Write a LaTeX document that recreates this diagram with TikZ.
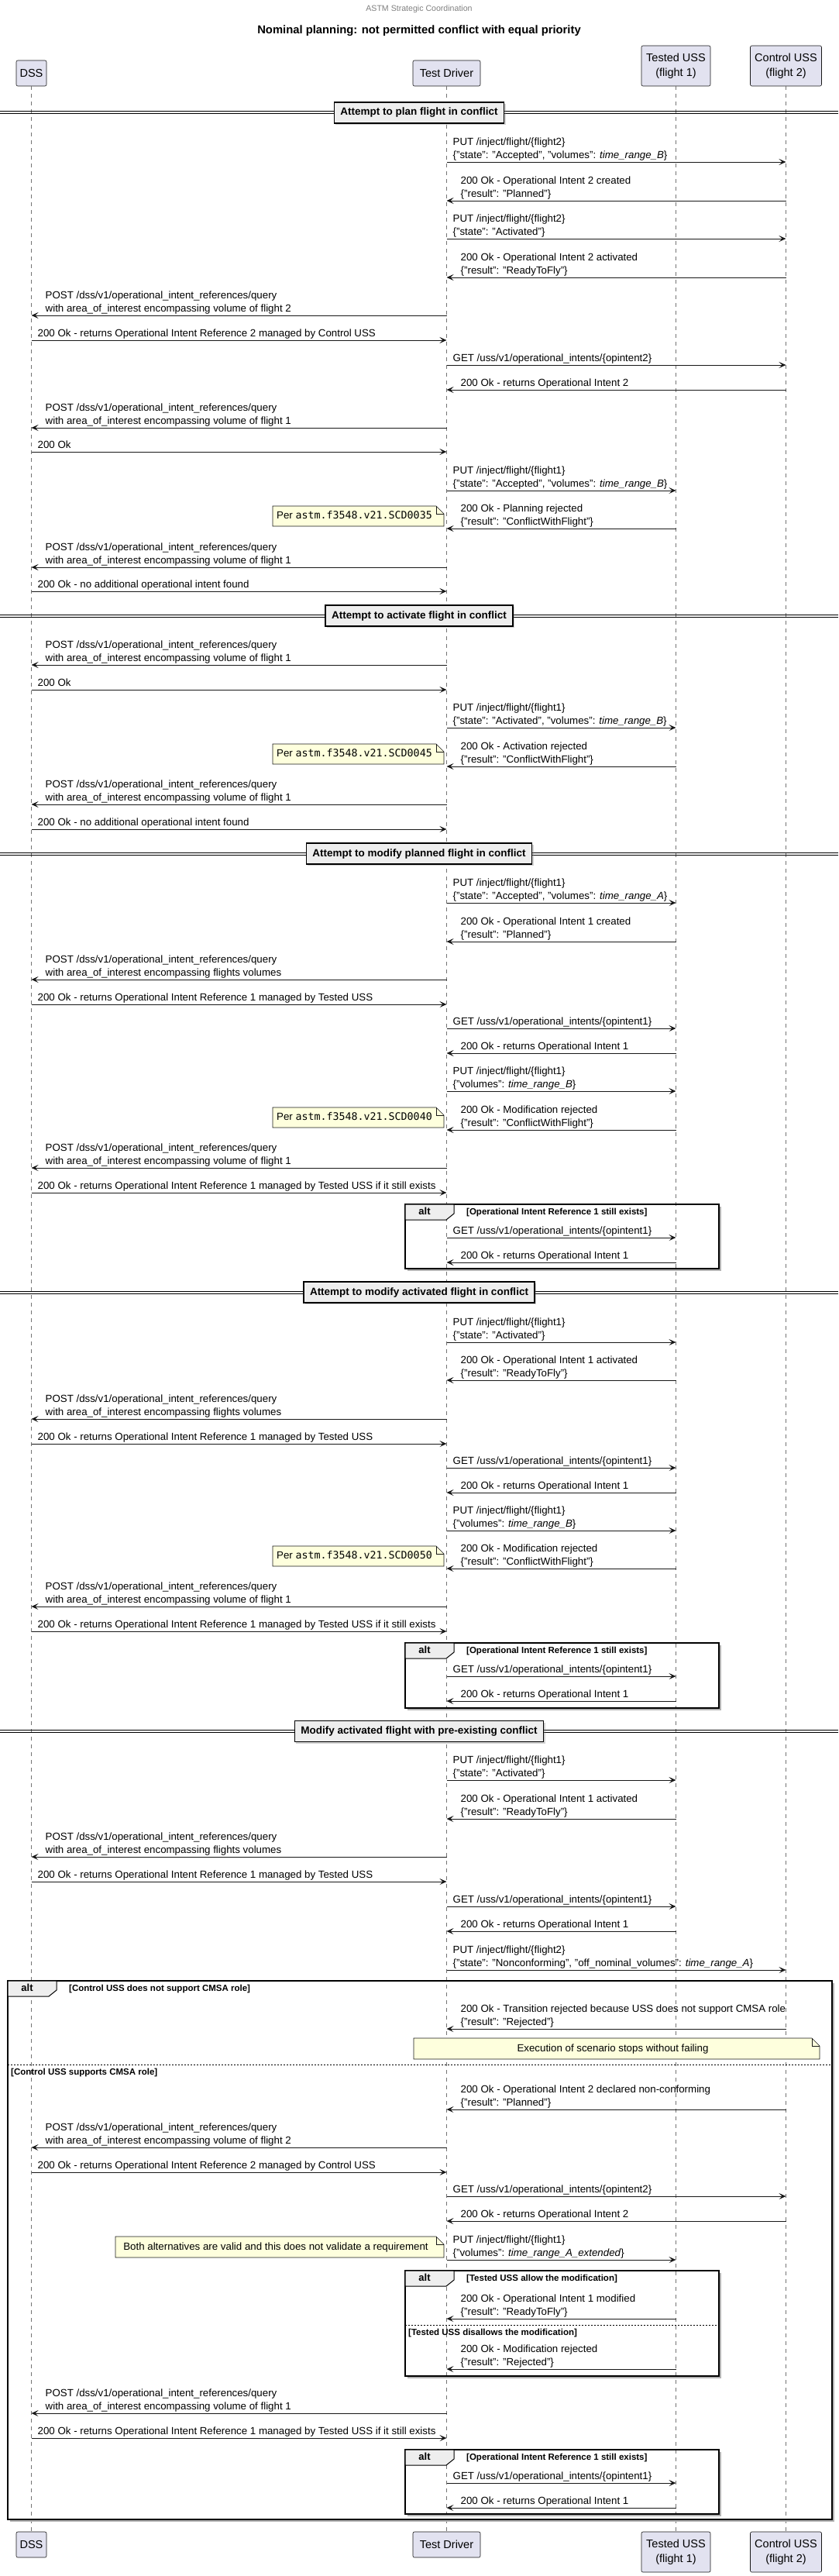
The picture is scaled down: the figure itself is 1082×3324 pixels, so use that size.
\documentclass[tikz,border=0pt]{standalone}
\usepackage{fontspec}
\setmainfont{Liberation Sans}
\newfontfamily\monofont{DejaVu Sans Mono}
\usetikzlibrary{arrows.meta,calc,shadows}
\definecolor{partfill}{HTML}{E2E2F0}
\definecolor{notefill}{HTML}{FEFFDD}
\definecolor{divfill}{HTML}{EEEEEE}
\definecolor{ink}{HTML}{181818}
\newcounter{lbl}
\tikzset{
 partbox/.style={draw=ink, fill=partfill, line width=0.6pt, rounded corners=2pt, align=center, font=\fontsize{14.5}{19}\selectfont, inner sep=0pt},
 lifeline/.style={draw=ink!60, line width=0.7pt, dash pattern=on 5pt off 5pt},
 msgline/.style={draw=ink, line width=1pt, -{Stealth[length=9pt,width=8pt,inset=4pt]}},
 msgtxt/.style={anchor=base west, inner sep=0pt, font=\fontsize{13.3}{17}\selectfont, text=black},
 divbox/.style={draw=black, fill=divfill, line width=1.5pt, inner xsep=8pt, inner ysep=0pt, minimum height=27pt, text height=10pt, text depth=3pt, font=\bfseries\fontsize{13.5}{16}\selectfont, drop shadow={shadow xshift=2pt,shadow yshift=-2pt,opacity=0.35}},
 divline/.style={draw=black, line width=1pt},
 altbox/.style={draw=black, line width=1.5pt},
 altshadow/.style={draw=black!30, line width=1.5pt},
 alttab/.style={draw=black, fill=divfill, line width=1pt},
 alttxt/.style={font=\bfseries\fontsize{13}{15}\selectfont, inner sep=0pt, text height=9.5pt, text depth=2.5pt},
 condtxt/.style={font=\bfseries\fontsize{11.5}{14}\selectfont, inner sep=0pt, anchor=west, text height=8.5pt, text depth=2.5pt},
 elseline/.style={draw=black, line width=1pt, dash pattern=on 2pt off 2pt},
 notebg/.style={draw=ink, fill=notefill, line width=0.6pt},
 notetxt/.style={font=\fontsize{13.3}{17}\selectfont, inner sep=0pt, text height=9.5pt, text depth=2.5pt},
}
\newcommand\postquery{POST /dss/v1/operational\_intent\_references/query}
\newcommand\msgtext[5]{%
 \stepcounter{lbl}%
 \ifx\relax#5\relax
   \node[msgtxt, xshift=#2pt, yshift=5pt] (t\arabic{lbl}) at (#1.south |- 0,#3) {#4};%
 \else
   \node[msgtxt, xshift=#2pt, yshift=22pt] (t\arabic{lbl}a) at (#1.south |- 0,#3) {#4};%
   \node[msgtxt, xshift=#2pt, yshift=5pt] (t\arabic{lbl}b) at (#1.south |- 0,#3) {#5};%
 \fi}
\newcommand\msgR[5]{\draw[msgline] (#1.south |- 0,#3) -- (#2.south |- 0,#3);\msgtext{#1}{8}{#3}{#4}{#5}}
\newcommand\msgL[5]{\draw[msgline] (#1.south |- 0,#3) -- (#2.south |- 0,#3);\msgtext{#2}{18}{#3}{#4}{#5}}
\newcommand\divider[3]{%
 \draw[divline] (0,#2-1.5) -- (1082,#2-1.5);
 \draw[divline] (0,#2+1.5) -- (1082,#2+1.5);
 \node[divbox] (#1) at (541,#2) {#3};}
\newcommand\altframe[6]{% name x0 y0 x1 y1 condition
 \draw[altshadow] (#2+3,#5+2) -- (#4+2,#5+2) -- (#4+2,#3+3);
 \draw[altbox] (#2,#3) rectangle (#4,#5);
 \draw[alttab] (#2,#3) -- (#2+63,#3) -- (#2+63,#3+12) -- (#2+53,#3+20) -- (#2,#3+20) -- cycle;
 \node[alttxt] (#1) at (#2+25,#3+10) {alt};
 \node[condtxt] (#1c) at (#2+79,#3+10) {#6};}
\newcommand\elsepart[5]{% name x0 x1 y text
 \draw[elseline] (#2,#4) -- (#3,#4);
 \node[condtxt] (#1) at (#2+4,#4+10) {#5};}
\newcommand\notebox[6]{% name x0 y0 x1 y1 text
 \draw[notebg] (#2,#3) -- (#4-10,#3) -- (#4,#3+10) -- (#4,#5) -- (#2,#5) -- cycle;
 \draw[notebg, fill=none] (#4-10,#3) -- (#4-10,#3+10) -- (#4,#3+10);
 \node[notetxt] (#1) at ({(#2+#4-10)/2},{(#3+#5)/2}) {#6};}

\begin{document}
\begin{tikzpicture}[x=1pt,y=-1pt]
\useasboundingbox (0,0) rectangle (1082,3324);
\fill[white] (0,0) rectangle (1082,3324);

\node[font=\fontsize{10.6}{12}\selectfont, text=black!50, inner sep=0pt] (hdr) at (541,12) {ASTM Strategic Coordination};
\node[font=\bfseries\fontsize{14.8}{17}\selectfont, inner sep=0pt] (ttl) at (541,40) {Nominal planning: not permitted conflict with equal priority};

% participants
\node[partbox, minimum width=39pt, minimum height=33pt] (pDSS) at (40.5,94.5) {DSS};
\node[partbox, minimum width=87pt, minimum height=33pt] (pTD) at (576.5,94.5) {Test Driver};
\node[partbox, minimum width=89pt, minimum height=52pt] (pTU) at (872.5,85) {Tested USS\\(flight 1)};
\node[partbox, minimum width=92pt, minimum height=52pt] (pCU) at (1014.5,85) {Control USS\\(flight 2)};
\node[partbox, minimum width=39pt, minimum height=33pt] (bDSS) at (40.5,3283.5) {DSS};
\node[partbox, minimum width=87pt, minimum height=33pt] (bTD) at (576.5,3283.5) {Test Driver};
\node[partbox, minimum width=89pt, minimum height=52pt] (bTU) at (872.5,3293) {Tested USS\\(flight 1)};
\node[partbox, minimum width=92pt, minimum height=52pt] (bCU) at (1014.5,3293) {Control USS\\(flight 2)};

\draw[lifeline] (pDSS.south) -- (bDSS.north);
\draw[lifeline] (pTD.south) -- (bTD.north);
\draw[lifeline] (pTU.south) -- (bTU.north);
\draw[lifeline] (pCU.south) -- (bCU.north);

% ---- section 1
\divider{d1}{145.5}{Attempt to plan flight in conflict}
\msgR{pTD}{pCU}{209}{PUT /inject/flight/\{flight2\}}{\{"state": "Accepted", "volumes": \textit{time\_range\_B}\}}
\msgL{pCU}{pTD}{259}{200 Ok - Operational Intent 2 created}{\{"result": "Planned"\}}
\msgR{pTD}{pCU}{308}{PUT /inject/flight/\{flight2\}}{\{"state": "Activated"\}}
\msgL{pCU}{pTD}{358}{200 Ok - Operational Intent 2 activated}{\{"result": "ReadyToFly"\}}
\msgL{pTD}{pDSS}{407}{\postquery}{with area\_of\_interest encompassing volume of flight 2}
\msgR{pDSS}{pTD}{439}{200 Ok - returns Operational Intent Reference 2 managed by Control USS}{}
\msgR{pTD}{pCU}{471}{GET /uss/v1/operational\_intents/\{opintent2\}}{}
\msgL{pCU}{pTD}{503}{200 Ok - returns Operational Intent 2}{}
\msgL{pTD}{pDSS}{552}{\postquery}{with area\_of\_interest encompassing volume of flight 1}
\msgR{pDSS}{pTD}{583}{200 Ok}{}
\msgR{pTD}{pTU}{633}{PUT /inject/flight/\{flight1\}}{\{"state": "Accepted", "volumes": \textit{time\_range\_B}\}}
\notebox{n1}{352}{653}{573}{679}{Per {\monofont astm.f3548.v21.SCD0035}}
\msgL{pTU}{pTD}{682}{200 Ok - Planning rejected}{\{"result": "ConflictWithFlight"\}}
\msgL{pTD}{pDSS}{732}{\postquery}{with area\_of\_interest encompassing volume of flight 1}
\msgR{pDSS}{pTD}{763}{200 Ok - no additional operational intent found}{}

% ---- section 2
\divider{d2}{794.5}{Attempt to activate flight in conflict}
\msgL{pTD}{pDSS}{858}{\postquery}{with area\_of\_interest encompassing volume of flight 1}
\msgR{pDSS}{pTD}{890}{200 Ok}{}
\msgR{pTD}{pTU}{939}{PUT /inject/flight/\{flight1\}}{\{"state": "Activated", "volumes": \textit{time\_range\_B}\}}
\notebox{n2}{352}{960}{573}{986}{Per {\monofont astm.f3548.v21.SCD0045}}
\msgL{pTU}{pTD}{989}{200 Ok - Activation rejected}{\{"result": "ConflictWithFlight"\}}
\msgL{pTD}{pDSS}{1038}{\postquery}{with area\_of\_interest encompassing volume of flight 1}
\msgR{pDSS}{pTD}{1070}{200 Ok - no additional operational intent found}{}

% ---- section 3
\divider{d3}{1101.5}{Attempt to modify planned flight in conflict}
\msgR{pTD}{pTU}{1165}{PUT /inject/flight/\{flight1\}}{\{"state": "Accepted", "volumes": \textit{time\_range\_A}\}}
\msgL{pTU}{pTD}{1215}{200 Ok - Operational Intent 1 created}{\{"result": "Planned"\}}
\msgL{pTD}{pDSS}{1264}{\postquery}{with area\_of\_interest encompassing flights volumes}
\msgR{pDSS}{pTD}{1296}{200 Ok - returns Operational Intent Reference 1 managed by Tested USS}{}
\msgR{pTD}{pTU}{1327}{GET /uss/v1/operational\_intents/\{opintent1\}}{}
\msgL{pTU}{pTD}{1359}{200 Ok - returns Operational Intent 1}{}
\msgR{pTD}{pTU}{1408}{PUT /inject/flight/\{flight1\}}{\{"volumes": \textit{time\_range\_B}\}}
\notebox{n3}{352}{1429}{573}{1455}{Per {\monofont astm.f3548.v21.SCD0040}}
\msgL{pTU}{pTD}{1458}{200 Ok - Modification rejected}{\{"result": "ConflictWithFlight"\}}
\msgL{pTD}{pDSS}{1507}{\postquery}{with area\_of\_interest encompassing volume of flight 1}
\msgR{pDSS}{pTD}{1539}{200 Ok - returns Operational Intent Reference 1 managed by Tested USS if it still exists}{}
\altframe{a1}{523}{1554}{928}{1637}{[Operational Intent Reference 1 still exists]}
\msgR{pTD}{pTU}{1597}{GET /uss/v1/operational\_intents/\{opintent1\}}{}
\msgL{pTU}{pTD}{1629}{200 Ok - returns Operational Intent 1}{}

% ---- section 4
\divider{d4}{1667.5}{Attempt to modify activated flight in conflict}
\msgR{pTD}{pTU}{1732}{PUT /inject/flight/\{flight1\}}{\{"state": "Activated"\}}
\msgL{pTU}{pTD}{1781}{200 Ok - Operational Intent 1 activated}{\{"result": "ReadyToFly"\}}
\msgL{pTD}{pDSS}{1831}{\postquery}{with area\_of\_interest encompassing flights volumes}
\msgR{pDSS}{pTD}{1863}{200 Ok - returns Operational Intent Reference 1 managed by Tested USS}{}
\msgR{pTD}{pTU}{1894}{GET /uss/v1/operational\_intents/\{opintent1\}}{}
\msgL{pTU}{pTD}{1926}{200 Ok - returns Operational Intent 1}{}
\msgR{pTD}{pTU}{1975}{PUT /inject/flight/\{flight1\}}{\{"volumes": \textit{time\_range\_B}\}}
\notebox{n4}{352}{1995}{573}{2021}{Per {\monofont astm.f3548.v21.SCD0050}}
\msgL{pTU}{pTD}{2024}{200 Ok - Modification rejected}{\{"result": "ConflictWithFlight"\}}
\msgL{pTD}{pDSS}{2073}{\postquery}{with area\_of\_interest encompassing volume of flight 1}
\msgR{pDSS}{pTD}{2105}{200 Ok - returns Operational Intent Reference 1 managed by Tested USS if it still exists}{}
\altframe{a2}{523}{2120}{928}{2204}{[Operational Intent Reference 1 still exists]}
\msgR{pTD}{pTU}{2163}{GET /uss/v1/operational\_intents/\{opintent1\}}{}
\msgL{pTU}{pTD}{2195}{200 Ok - returns Operational Intent 1}{}

% ---- section 5
\divider{d5}{2234}{Modify activated flight with pre-existing conflict}
\msgR{pTD}{pTU}{2297}{PUT /inject/flight/\{flight1\}}{\{"state": "Activated"\}}
\msgL{pTU}{pTD}{2347}{200 Ok - Operational Intent 1 activated}{\{"result": "ReadyToFly"\}}
\msgL{pTD}{pDSS}{2396}{\postquery}{with area\_of\_interest encompassing flights volumes}
\msgR{pDSS}{pTD}{2428}{200 Ok - returns Operational Intent Reference 1 managed by Tested USS}{}
\msgR{pTD}{pTU}{2460}{GET /uss/v1/operational\_intents/\{opintent1\}}{}
\msgL{pTU}{pTD}{2492}{200 Ok - returns Operational Intent 1}{}
\msgR{pTD}{pCU}{2542}{PUT /inject/flight/\{flight2\}}{\{"state": "Nonconforming", "off\_nominal\_volumes": \textit{time\_range\_A}\}}
\altframe{a3}{10}{2556}{1074}{3251}{[Control USS does not support CMSA role]}
\msgL{pCU}{pTD}{2618}{200 Ok - Transition rejected because USS does not support CMSA role}{\{"result": "Rejected"\}}
\notebox{n5}{534}{2630}{1058}{2657}{Execution of scenario stops without failing}
\elsepart{e1}{10}{1074}{2664}{[Control USS supports CMSA role]}
\msgL{pCU}{pTD}{2722}{200 Ok - Operational Intent 2 declared non-conforming}{\{"result": "Planned"\}}
\msgL{pTD}{pDSS}{2771}{\postquery}{with area\_of\_interest encompassing volume of flight 2}
\msgR{pDSS}{pTD}{2803}{200 Ok - returns Operational Intent Reference 2 managed by Control USS}{}
\msgR{pTD}{pCU}{2834}{GET /uss/v1/operational\_intents/\{opintent2\}}{}
\msgL{pCU}{pTD}{2866}{200 Ok - returns Operational Intent 2}{}
\notebox{n6}{149}{2886}{573}{2913}{Both alternatives are valid and this does not validate a requirement}
\msgR{pTD}{pTU}{2916}{PUT /inject/flight/\{flight1\}}{\{"volumes": \textit{time\_range\_A\_extended}\}}
\altframe{a4}{523}{2930}{928}{3066}{[Tested USS allow the modification]}
\msgL{pTU}{pTD}{2992}{200 Ok - Operational Intent 1 modified}{\{"result": "ReadyToFly"\}}
\elsepart{e2}{523}{928}{3000}{[Tested USS disallows the modification]}
\msgL{pTU}{pTD}{3057}{200 Ok - Modification rejected}{\{"result": "Rejected"\}}
\msgL{pTD}{pDSS}{3114}{\postquery}{with area\_of\_interest encompassing volume of flight 1}
\msgR{pDSS}{pTD}{3146}{200 Ok - returns Operational Intent Reference 1 managed by Tested USS if it still exists}{}
\altframe{a5}{523}{3161}{928}{3244}{[Operational Intent Reference 1 still exists]}
\msgR{pTD}{pTU}{3204}{GET /uss/v1/operational\_intents/\{opintent1\}}{}
\msgL{pTU}{pTD}{3236}{200 Ok - returns Operational Intent 1}{}
\end{tikzpicture}
\end{document}
